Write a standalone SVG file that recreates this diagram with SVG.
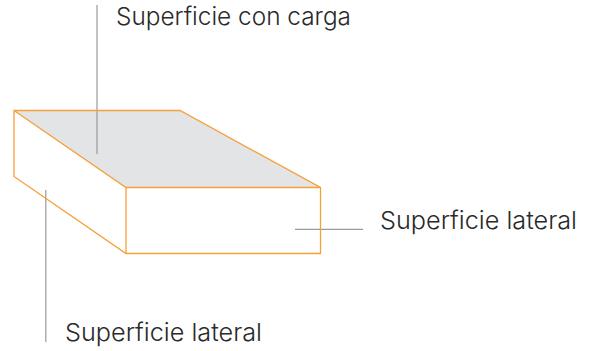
<svg xmlns="http://www.w3.org/2000/svg" width="592" height="351" viewBox="0 0 592 351">
<style>
.e{fill:none;stroke:#f5a03a;stroke-width:1.3}
.l{fill:none;stroke:#9a9a9a;stroke-width:1.2}
text{font-family:"Inter","Liberation Sans",sans-serif;font-size:24.5px;font-weight:300;fill:#2a2a2a}
</style>
<rect width="592" height="351" fill="#fff"/>
<path d="M14 110.500H180L320.500 187.500H126Z" fill="#e3e4e6"/>
<g id="connectors">
<path class="l" d="M97 5V154"/>
<path class="l" d="M295 229.300H363"/>
<path class="l" d="M45.800 190V342"/>
</g>
<g id="block">
<path class="e" d="M14 110.500H180L320.500 187.500V253.500H126L14 176.500ZM14 110.500L126 187.500H320.500M126 187.500V253.500"/>
</g>
<g id="label-carga"><text x="116" y="25" textLength="235" lengthAdjust="spacingAndGlyphs">Superficie con carga</text></g>
<g id="label-lateral-right"><text x="380" y="229" textLength="197" lengthAdjust="spacingAndGlyphs">Superficie lateral</text></g>
<g id="label-lateral-bottom"><text x="65" y="341" textLength="197" lengthAdjust="spacingAndGlyphs">Superficie lateral</text></g>
</svg>
